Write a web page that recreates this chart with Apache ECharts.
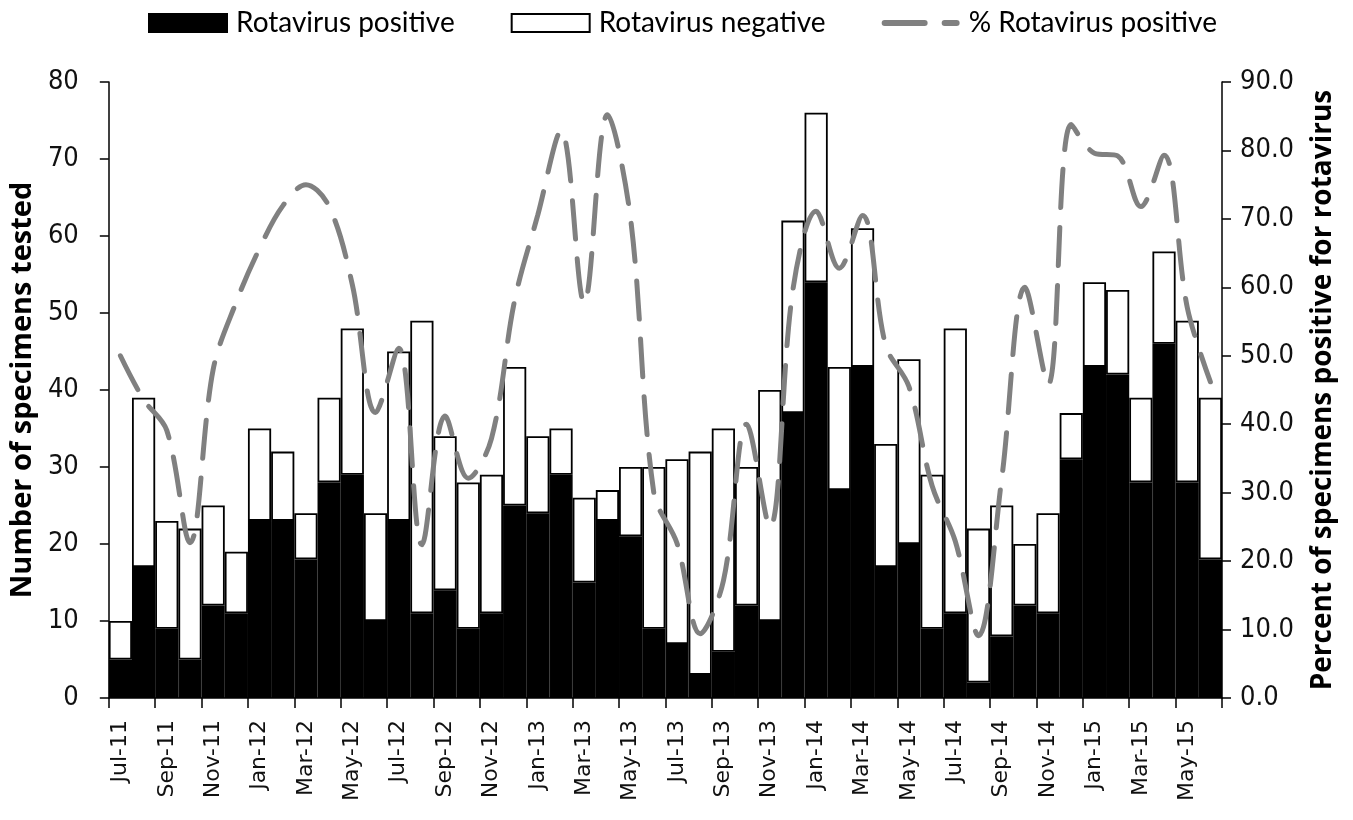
<!DOCTYPE html>
<html>
<head>
<meta charset="utf-8">
<script src="https://cdn.jsdelivr.net/npm/echarts@6/dist/echarts.min.js"></script>
<style>
html,body{margin:0;padding:0;background:#fff;}
#chart{width:1353px;height:820px;}
</style>
</head>
<body>
<div id="chart"></div>
<script>
var months = ["Jul-11","Aug-11","Sep-11","Oct-11","Nov-11","Dec-11",
  "Jan-12","Feb-12","Mar-12","Apr-12","May-12","Jun-12","Jul-12","Aug-12","Sep-12","Oct-12","Nov-12","Dec-12",
  "Jan-13","Feb-13","Mar-13","Apr-13","May-13","Jun-13","Jul-13","Aug-13","Sep-13","Oct-13","Nov-13","Dec-13",
  "Jan-14","Feb-14","Mar-14","Apr-14","May-14","Jun-14","Jul-14","Aug-14","Sep-14","Oct-14","Nov-14","Dec-14",
  "Jan-15","Feb-15","Mar-15","Apr-15","May-15","Jun-15"];

var positive = [5,17,9,5,12,11,23,23,18,28,29,10,23,11,14,9,11,25,24,29,15,23,21,9,7,3,6,12,10,37,54,27,43,17,20,9,11,2,8,12,11,31,43,42,28,46,28,18];

var negative = [5,22,14,17,13,8,12,9,6,11,19,14,22,38,20,19,18,18,10,6,11,4,9,21,24,29,29,18,30,25,22,16,18,16,24,20,37,20,17,8,13,6,11,11,11,12,21,21];

var pctPositive = [50.0,43.6,39.1,22.7,48.0,57.9,65.7,71.9,75.0,71.8,60.4,41.7,51.1,22.4,41.2,32.1,37.9,58.1,70.6,82.9,57.7,85.2,70.0,30.0,22.6,9.4,17.1,40.0,25.0,59.7,71.1,62.8,70.5,51.5,45.5,31.0,22.9,9.1,32.0,60.0,45.8,83.8,79.6,79.2,71.8,79.3,57.1,46.2];

var chart = echarts.init(document.getElementById('chart'), null, {renderer: 'canvas'});
var yFont = "'DejaVu Sans Condensed', 'DejaVu Sans', sans-serif";
var xFont = "'DejaVu Sans', sans-serif";
var titleFont = "'Open Sans', sans-serif";
var gray = '#808080';
chart.setOption({
  animation: false,
  backgroundColor: '#fff',
  legend: {
    top: 4,
    left: 143,
    itemWidth: 78,
    itemHeight: 18,
    itemGap: 56,
    symbolKeepAspect: true,
    textStyle: {fontFamily: 'Lato', fontSize: 28, color: '#000', padding: [0, 0, 0, 4]},
    data: [
      {name: 'Rotavirus positive', icon: 'rect'},
      {name: 'Rotavirus negative', icon: 'rect'},
      {name: '% Rotavirus positive',
       icon: 'path://M3,0 h40 a3,3 0 0 1 0,6 h-40 a3,3 0 0 1 0,-6 Z M63,0 h12 a3,3 0 0 1 0,6 h-12 a3,3 0 0 1 0,-6 Z',
       itemStyle: {color: gray}}
    ]
  },
  grid: {left: 106, right: 131, top: 82, bottom: 122, containLabel: false},
  xAxis: {
    type: 'category',
    data: months,
    boundaryGap: true,
    axisLine: {lineStyle: {color: '#000', width: 1.5}},
    axisTick: {show: true, interval: 1, length: 10, alignWithLabel: false, lineStyle: {color: '#000', width: 1.5}},
    axisLabel: {interval: 1, rotate: 90, fontFamily: xFont, fontSize: 22, color: '#111', margin: 22}
  },
  yAxis: [
    {
      type: 'value', min: 0, max: 80, interval: 10,
      name: 'Number of specimens tested',
      nameLocation: 'middle', nameRotate: 90, nameGap: 63,
      nameTextStyle: {fontFamily: titleFont, fontWeight: 'bold', fontSize: 29, color: '#000'},
      axisLine: {show: true, lineStyle: {color: '#000', width: 1.5}},
      axisTick: {show: true, length: 9, lineStyle: {color: '#000', width: 1.5}},
      splitLine: {show: false},
      axisLabel: {fontFamily: yFont, fontSize: 27, color: '#111', margin: 30}
    },
    {
      type: 'value', min: 0, max: 90, interval: 10,
      name: 'Percent of specimens positive for rotavirus',
      nameLocation: 'middle', nameRotate: 90, nameGap: 87,
      nameTextStyle: {fontFamily: titleFont, fontWeight: 'bold', fontSize: 28, color: '#000'},
      axisLine: {show: true, lineStyle: {color: '#000', width: 1.5}},
      axisTick: {show: true, length: 9, lineStyle: {color: '#000', width: 1.5}},
      splitLine: {show: false},
      axisLabel: {fontFamily: yFont, fontSize: 27, color: '#111', margin: 18,
        formatter: function (v) { return v.toFixed(1); }}
    }
  ],
  series: [
    {
      name: 'Rotavirus positive', type: 'bar', stack: 'total',
      data: positive, barCategoryGap: '0%',
      itemStyle: {color: '#000', borderColor: '#000', borderWidth: 1.5}
    },
    {
      name: 'Rotavirus negative', type: 'bar', stack: 'total',
      data: negative, barCategoryGap: '0%',
      itemStyle: {color: '#fff', borderColor: '#000', borderWidth: 1.8}
    },
    {
      name: '% Rotavirus positive', type: 'line', yAxisIndex: 1,
      data: pctPositive, smooth: 0.35, symbol: 'none', z: 5,
      itemStyle: {color: gray},
      lineStyle: {color: gray, width: 5, type: [38, 20], cap: 'round'}
    }
  ]
});
</script>
</body>
</html>
